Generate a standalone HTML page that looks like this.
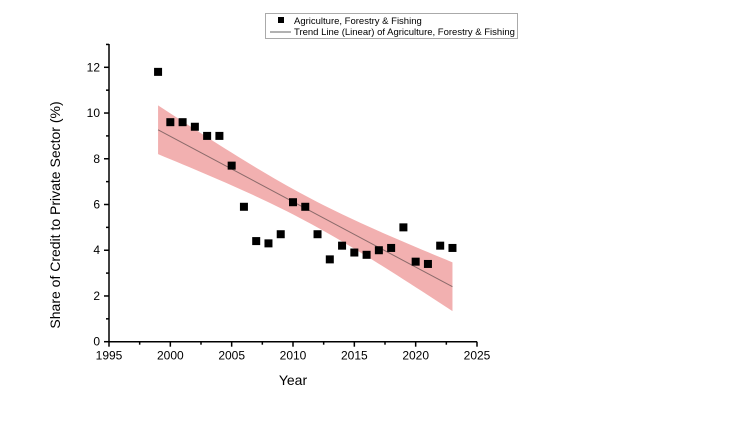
<!DOCTYPE html>
<html><head><meta charset="utf-8"><style>
body{margin:0;background:#fff;}
svg{display:block;font-family:"Liberation Sans",Arial,sans-serif;}
</style></head><body>
<svg id="chart" width="754" height="424"></svg>
<script>
const years=[1999,2000,2001,2002,2003,2004,2005,2006,2007,2008,2009,2010,2011,2012,2013,2014,2015,2016,2017,2018,2019,2020,2021,2022,2023];
const shares=[11.8,9.6,9.6,9.4,9.0,9.0,7.7,5.9,4.4,4.3,4.7,6.1,5.9,4.7,3.6,4.2,3.9,3.8,4.0,4.1,5.0,3.5,3.4,4.2,4.1];
const xTicks=[1995,2000,2005,2010,2015,2020,2025];
const yTicks=[0,2,4,6,8,10,12];
const NS="http://www.w3.org/2000/svg";
const svg=document.getElementById('chart');
const X0=109,X1=477,Y0=341.7,Y12=67.3;
const xs=v=>X0+(v-1995)*(X1-X0)/30;
const ys=v=>Y0-v*(Y0-Y12)/12;
function mk(t,a,p){const e=document.createElementNS(NS,t);for(const k in a)e.setAttribute(k,a[k]);(p||svg).appendChild(e);return e;}
// regression
const n=years.length;const mx=years.reduce((a,b)=>a+b)/n,my=shares.reduce((a,b)=>a+b)/n;
let sxx=0,sxy=0;for(let i=0;i<n;i++){sxx+=(years[i]-mx)**2;sxy+=(years[i]-mx)*(shares[i]-my);}
const b=sxy/sxx,a=my-b*mx;let sse=0;for(let i=0;i<n;i++)sse+=(shares[i]-a-b*years[i])**2;
const s=Math.sqrt(sse/(n-2)),t=2.069;
const x0=years[0],x1=years[n-1];
let up=[],lo=[];
for(let k=0;k<=48;k++){const x=x0+(x1-x0)*k/48;const h=t*s*Math.sqrt(1/n+(x-mx)**2/sxx);const y=a+b*x;up.push(xs(x)+','+ys(y+h));lo.unshift(xs(x)+','+ys(y-h));}
const band=mk('polygon',{points:up.concat(lo).join(' '),fill:'#f2b0b0'});


const tl=mk('line',{x1:xs(x0),y1:ys(a+b*x0),x2:xs(x1),y2:ys(a+b*x1),stroke:'#8a6a6a','stroke-width':1});


for(let i=0;i<n;i++){const r=mk('rect',{x:xs(years[i])-4,y:ys(shares[i])-4,width:8,height:8,fill:'#000'});

}
// axes
const ax=mk('g',{stroke:'#000','stroke-width':1.5,fill:'none'});


mk('line',{x1:X0,y1:44,x2:X0,y2:Y0},ax);
mk('line',{x1:X0,y1:Y0,x2:X1,y2:Y0},ax);
for(const v of xTicks){mk('line',{x1:xs(v),y1:Y0,x2:xs(v),y2:Y0+5},ax);
const tx=mk('text',{x:xs(v),y:Y0+18,'text-anchor':'middle','font-size':12,fill:'#000'});tx.textContent=v;


if(v<2025)mk('line',{x1:xs(v+2.5),y1:Y0,x2:xs(v+2.5),y2:Y0+3},ax);}
for(const v of yTicks){mk('line',{x1:X0,y1:ys(v),x2:X0-5,y2:ys(v)},ax);
const tx=mk('text',{x:X0-9,y:ys(v)+4,'text-anchor':'end','font-size':12,fill:'#000'});tx.textContent=v;


mk('line',{x1:X0,y1:ys(v+1),x2:X0-3,y2:ys(v+1)},ax);}
</script>
<svg width="0" height="0"></svg>
<script>
const s2=document.getElementById('chart');
s2.insertAdjacentHTML('beforeend',`
<text x="293" y="385" text-anchor="middle" font-size="14">Year</text>
<text transform="translate(60,215) rotate(-90)" text-anchor="middle" font-size="14">Share of Credit to Private Sector (%)</text>
<g>
<rect x="265.5" y="13.5" width="252" height="25" fill="#fff" stroke="#aaa"/>
<rect x="278" y="17" width="6" height="6" fill="#000"/>
<text x="294" y="24" font-size="9.5">Agriculture, Forestry &amp; Fishing</text>
<line x1="270" y1="32" x2="291" y2="32" stroke="#666"/>
<text x="294" y="35" font-size="9.5">Trend Line (Linear) of Agriculture, Forestry &amp; Fishing</text>
</g>`);
</script>
</body></html>
